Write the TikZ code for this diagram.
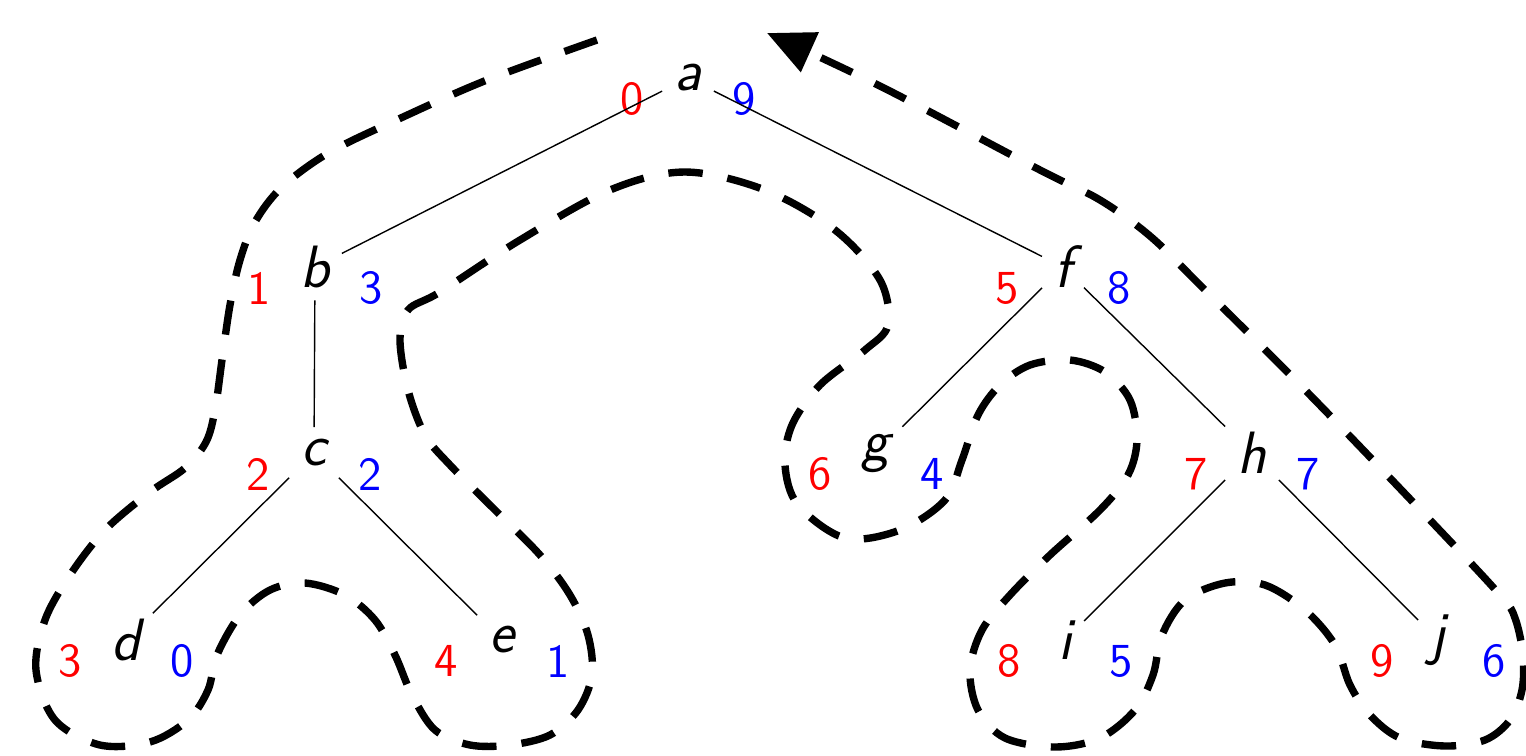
\documentclass[tikz,border=0pt]{standalone}
\usetikzlibrary{arrows.meta}
\begin{document}
\begin{tikzpicture}[
    vertex/.style={font=\fontsize{17}{20}\selectfont\sffamily\itshape},
    pre/.style={font=\fontsize{13.5}{16}\selectfont\sffamily, text=red},
    post/.style={font=\fontsize{13.5}{16}\selectfont\sffamily, text=blue},
    tour/.style={line width=2.1pt, dash pattern=on 9.8pt off 7.14pt,
      -{Triangle[length=0.47cm,width=0.42cm]}}
  ]
  \useasboundingbox (0,-7.55) rectangle (15.26,0);
  % vertices, with the number on entering (left) and on leaving (right)
  \foreach \v/\x/\y/\p/\q in {a/6.88/-0.78/0/9, b/3.15/-2.67/1/3, f/10.63/-2.67/5/8,
      c/3.14/-4.53/2/2, g/8.76/-4.53/6/4, h/12.52/-4.53/7/7,
      d/1.26/-6.40/3/0, e/5.02/-6.40/4/1, i/10.65/-6.40/8/5, j/14.38/-6.40/9/6}
  {
    \node[vertex] (\v) at (\x,\y) {\v};
    \node[pre] (\v-pre) at ([shift={(-0.56,-0.21)}]\v) {\p};
    \node[post] (\v-post) at ([shift={(0.56,-0.21)}]\v) {\q};
  }
  % tree edges
  \foreach \u/\v in {a/b,a/f,b/c,c/d,c/e,f/g,f/h,h/i,h/j}
    \draw (\u) -- (\v);
  % walk round the tree
  \draw[tour] plot[smooth, tension=0.55] coordinates {
    (5.97,-0.40) (4.87,-0.80) (4.03,-1.17) (3.30,-1.52) (2.82,-1.87)
    (2.55,-2.22) (2.40,-2.60) (2.30,-3.05) (2.22,-3.60) (2.15,-4.10)
    (2.06,-4.42) (1.85,-4.68) (1.50,-4.92) (1.05,-5.30) (0.70,-5.75)
    (0.45,-6.20) (0.36,-6.70) (0.55,-7.20) (1.00,-7.45) (1.50,-7.42)
    (1.88,-7.20) (2.08,-6.90) (2.17,-6.55) (2.40,-6.15) (2.70,-5.90)
    (3.05,-5.83) (3.45,-5.95) (3.75,-6.20) (3.95,-6.55) (4.12,-6.95)
    (4.35,-7.30) (4.70,-7.45) (5.10,-7.45) (5.50,-7.35) (5.78,-7.10)
    (5.92,-6.75) (5.88,-6.35) (5.70,-5.95) (5.40,-5.55) (4.95,-5.10)
    (4.50,-4.65) (4.25,-4.35) (4.08,-3.90) (4.00,-3.40) (4.08,-3.10)
    (4.40,-2.92) (5.20,-2.40) (6.10,-1.90) (6.85,-1.72) (7.65,-1.90)
    (8.35,-2.30) (8.80,-2.80) (8.88,-3.25) (8.65,-3.50) (8.20,-3.85)
    (7.92,-4.25) (7.85,-4.65) (7.98,-5.05) (8.45,-5.38) (9.00,-5.30)
    (9.45,-5.00) (9.62,-4.60) (9.78,-4.15) (10.00,-3.85) (10.30,-3.65)
    (10.70,-3.60) (11.05,-3.72) (11.30,-4.00) (11.37,-4.40) (11.28,-4.75)
    (11.00,-5.10) (10.50,-5.55) (10.10,-5.95) (9.82,-6.30) (9.70,-6.70)
    (9.78,-7.10) (10.05,-7.38) (10.55,-7.47) (11.00,-7.38) (11.35,-7.10)
    (11.53,-6.75) (11.62,-6.35) (11.85,-6.00) (12.25,-5.83) (12.65,-5.85)
    (13.05,-6.10) (13.35,-6.45) (13.50,-6.85) (13.70,-7.15) (14.00,-7.38)
    (14.45,-7.46) (14.85,-7.40) (15.10,-7.20) (15.22,-6.90) (15.23,-6.55)
    (15.15,-6.18) (15.00,-5.95) (14.30,-5.20) (13.10,-3.95) (12.00,-2.85)
    (11.50,-2.36) (11.00,-2.00) (10.40,-1.70) (8.80,-0.86) (7.67,-0.33)};
\end{tikzpicture}
\end{document}
